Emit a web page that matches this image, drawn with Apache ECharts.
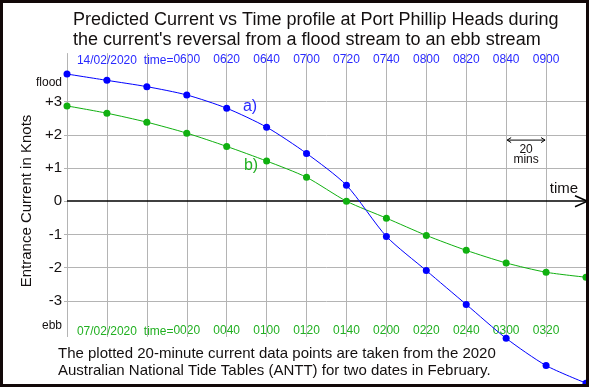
<!DOCTYPE html>
<html>
<head>
<meta charset="utf-8">
<script src="https://cdn.jsdelivr.net/npm/echarts@6/dist/echarts.min.js"></script>
<style>html,body{margin:0;padding:0;background:#fff}#c{width:589px;height:387px}</style>
</head>
<body>
<div id="c"></div>
<script>
// ---- data ----
const timesA = ['0500','0520','0540','0600','0620','0640','0700','0720','0740','0800','0820','0840','0900','0920'];
const timesB = ['2320','2340','0000','0020','0040','0100','0120','0140','0200','0220','0240','0300','0320','0340'];
const topTickLabels = ['','','','0600','0620','0640','0700','0720','0740','0800','0820','0840','0900',''];
const bottomTickLabels = ['','','','0020','0040','0100','0120','0140','0200','0220','0240','0300','0320',''];
const knotTicks = [-3,-2,-1,0,1,2,3];
const seriesA = [3.83, 3.64, 3.45, 3.20, 2.80, 2.23, 1.44, 0.48, -1.06, -2.09, -3.11, -4.13, -4.95, -5.48]; // 14/02/2020
const seriesB = [2.87, 2.65, 2.38, 2.05, 1.65, 1.21, 0.72, 0.00, -0.51, -1.03, -1.48, -1.86, -2.14, -2.29]; // 07/02/2020
const dateA = '14/02/2020';
const dateB = '07/02/2020';
const floodValue = 3.56, ebbValue = -3.76;

// ---- style ----
const FF = '"Liberation Sans", Arial, sans-serif';
const BLUE = '#0000ff', BLUE_T = '#2a2aff';
const GREEN = '#10b010', GREEN_T = '#22b022';
const GRID = '#b4b4b4';
const TXT = '#141010';
const yMin = -5.536, yMax = 4.554;

const chart = echarts.init(document.getElementById('c'), null, {renderer:'canvas'});

const gridLines = [];
knotTicks.forEach(v => { if (v !== 0) gridLines.push({yAxis: v}); });
for (let i = 0; i < 13; i++) {
  gridLines.push([{coord:[timesB[i], 4.46]}, {coord:[timesB[i], -4.09]}]);
}
gridLines.push({yAxis: 0, lineStyle:{color:'#000', width:1.5, type:'solid'}});

chart.setOption({
  animation: false,
  backgroundColor: '#fff',
  textStyle: {fontFamily: FF},
  grid: {left: 67, right: 2, top: 50, bottom: 2},
  xAxis: [
    {type:'category', position:'bottom', data: timesB, boundaryGap:false, offset:-60,
     axisLine:{show:false}, axisTick:{show:false}, splitLine:{show:false},
     axisLabel:{interval:0, margin:0, color:GREEN_T, fontSize:12, fontFamily:FF,
                formatter:(v,i)=>bottomTickLabels[i]}},
    {type:'category', position:'top', data: timesA, boundaryGap:false,
     axisLine:{show:false}, axisTick:{show:false}, splitLine:{show:false},
     axisLabel:{interval:0, inside:true, margin:4, color:BLUE_T, fontSize:12, fontFamily:FF,
                formatter:(v,i)=>topTickLabels[i]}}
  ],
  yAxis: {type:'value', min:yMin, max:yMax,
    axisLine:{show:false}, splitLine:{show:false},
    axisTick:{show:true, customValues: knotTicks, length:3, lineStyle:{color:GRID}},
    axisLabel:{customValues: knotTicks.concat([floodValue, ebbValue]), margin:5, fontSize:15, color:TXT, fontFamily:FF,
      formatter: v => {
        if (Math.abs(v - floodValue) < 1e-6) return '{s|flood}';
        if (Math.abs(v - ebbValue) < 1e-6) return '{s|ebb}';
        return v > 0 ? '+' + v : String(v);
      },
      rich:{s:{fontSize:12, color:TXT, fontFamily:FF}}}
  },
  series: [
    {name:'b', type:'line', xAxisIndex:0, data: seriesB, smooth:0.25, symbol:'circle', symbolSize:7,
     lineStyle:{width:1, color:GREEN}, itemStyle:{color:GREEN}, z:3,
     markLine:{silent:true, symbol:'none', z:1, label:{show:false}, emphasis:{disabled:true},
               lineStyle:{color:GRID, width:1, type:'solid'}, data: gridLines}},
    {name:'a', type:'line', xAxisIndex:1, data: seriesA, smooth:0.25, symbol:'circle', symbolSize:7,
     lineStyle:{width:1, color:BLUE}, itemStyle:{color:BLUE}, z:4}
  ]
});

const px = i => chart.convertToPixel({xAxisIndex:0}, timesB[i]);
const py = v => chart.convertToPixel({yAxisIndex:0}, v);
const y0 = py(0);
const yArrow = py(1.84);
const g = [];
function txt(text, x, y, size, color, align, extra) {
  return Object.assign({type:'text', x:x, y:y, z:10, silent:true,
    style:{text:text, x:0, y:0, fill:color, font: size + 'px ' + FF, align: align || 'center', verticalAlign:'middle'}}, extra || {});
}
// title
g.push(txt('Predicted Current vs Time profile at Port Phillip Heads during', 73, 20, 18, TXT, 'left'));
g.push(txt("the current's reversal from a flood stream to an ebb stream", 73, 40, 18, TXT, 'left'));
// date / time= prefixes
g.push(txt(dateA, px(1), 61, 12, BLUE_T));
g.push(txt('time=', px(3) - 13.3, 61, 12, BLUE_T, 'right'));
g.push(txt(dateB, px(1), 332, 12, GREEN_T));
g.push(txt('time=', px(3) - 13.3, 332, 12, GREEN_T, 'right'));
// series tags
g.push(txt('a)', 250, 107, 16, BLUE_T));
g.push(txt('b)', 251, 166, 16, GREEN_T));
// y axis name
g.push(txt('Entrance Current in Knots', 27, 201, 15, TXT, 'center', {rotation: Math.PI/2}));
// time arrow
g.push(txt('time', 564, 189, 15, TXT));
g.push({type:'polyline', z:10, silent:true, shape:{points:[[575, y0-5.5],[587.5, y0],[575, y0+5.5]]}, style:{stroke:'#000', lineWidth:1.5, fill:null}});
// 20 mins annotation
const xa = px(11), xb = px(12);
g.push({type:'line', z:10, silent:true, shape:{x1:xa+1, y1:yArrow, x2:xb-1, y2:yArrow}, style:{stroke:'#000', lineWidth:1}});
g.push({type:'polyline', z:10, silent:true, shape:{points:[[xa+5, yArrow-2.5],[xa+1, yArrow],[xa+5, yArrow+2.5]]}, style:{stroke:'#000', lineWidth:1, fill:null}});
g.push({type:'polyline', z:10, silent:true, shape:{points:[[xb-5, yArrow-2.5],[xb-1, yArrow],[xb-5, yArrow+2.5]]}, style:{stroke:'#000', lineWidth:1, fill:null}});
g.push(txt('20', (xa+xb)/2, yArrow + 9.5, 12, TXT));
g.push(txt('mins', (xa+xb)/2, yArrow + 20, 12, TXT));
// footnote
g.push(txt('The plotted 20-minute current data points are taken from the 2020', 58, 354, 15, TXT, 'left'));
g.push(txt('Australian National Tide Tables (ANTT) for two dates in February.', 58, 371, 15, TXT, 'left'));
// frame
g.push({type:'rect', z:20, silent:true, shape:{x:1.5, y:1.5, width:586, height:384}, style:{stroke:'#120808', lineWidth:3, fill:null}});

chart.setOption({graphic: g});
</script>
</body>
</html>
